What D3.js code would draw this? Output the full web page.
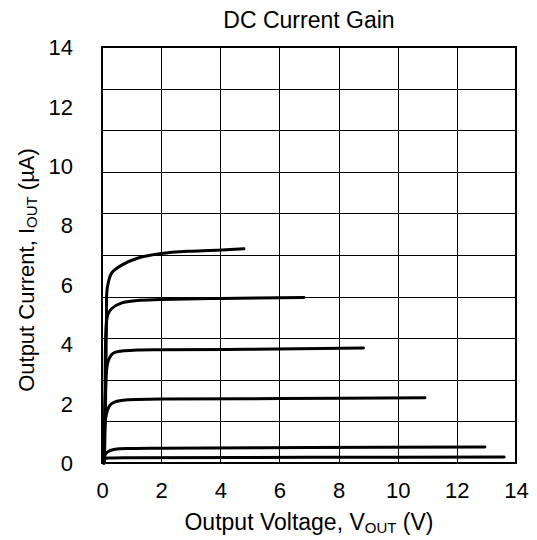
<!DOCTYPE html>
<html><head><meta charset="utf-8">
<script src="https://cdn.jsdelivr.net/npm/d3@7"></script>
<style>body{margin:0;background:#fff}svg{display:block}text{font-family:"Liberation Sans",Arial,sans-serif;fill:#000}</style>
</head><body>
<svg id="c" width="537" height="540"></svg>
<script>
const xTicks = [0, 2, 4, 6, 8, 10, 12, 14];
const yTicks = [0, 2, 4, 6, 8, 10, 12, 14];
const yGridCount = 10;
const title = "DC Current Gain";

// Output current curves (V, µA)
const curve1 = [[0.08,0],[0.12,2],[0.15,4.8],[0.18,5.9],[0.33,6.4],[0.67,6.66],[1.22,6.9],[2.0,7.05],[3.0,7.13],[4.06,7.17],[4.8,7.21]];
const curve2 = [[0.07,0],[0.1,2],[0.14,4.6],[0.2,5.0],[0.33,5.2],[0.67,5.39],[1.2,5.47],[2.0,5.5],[4.0,5.54],[6.83,5.57]];
const curve3 = [[0.07,0],[0.12,2.5],[0.2,3.4],[0.37,3.69],[0.67,3.77],[1.2,3.8],[2.0,3.81],[5.0,3.83],[8.84,3.87]];
const curve4 = [[0.06,0],[0.12,1.5],[0.27,1.95],[0.44,2.06],[0.88,2.13],[2.0,2.15],[6.0,2.17],[10.92,2.2]];
const curve5 = [[0.06,0],[0.12,0.3],[0.2,0.38],[0.44,0.46],[1.0,0.49],[2.0,0.5],[7.0,0.52],[12.95,0.54]];
const curve6 = [[0.05,0],[0.1,0.14],[0.3,0.17],[1.0,0.18],[7.0,0.19],[13.6,0.2]];
const curves = [curve1, curve2, curve3, curve4, curve5, curve6];

const svg = d3.select("#c");
const L = 102, R = 516, T = 47, B = 463;
const x = d3.scaleLinear().domain([0, 14]).range([L, R]);
const y = d3.scaleLinear().domain([0, 14]).range([B, T]);

// grid
const g = svg.append("g").attr("shape-rendering", "crispEdges");
g.selectAll(".vg").data(xTicks).join("line")
  .attr("x1", d => Math.round(x(d)) + 0.5).attr("x2", d => Math.round(x(d)) + 0.5)
  .attr("y1", T).attr("y2", B).attr("stroke", "#000").attr("stroke-width", 1);
const hg = d3.range(yGridCount + 1).map(i => 14 * i / yGridCount);
g.selectAll(".hg").data(hg).join("line")
  .attr("x1", L).attr("x2", R)
  .attr("y1", d => Math.round(y(d)) + 0.5).attr("y2", d => Math.round(y(d)) + 0.5)
  .attr("stroke", "#000").attr("stroke-width", 1);
svg.append("rect").attr("x", L).attr("y", T).attr("width", R - L).attr("height", B - T)
  .attr("fill", "none").attr("stroke", "#000").attr("stroke-width", 2);

// curves
const line = d3.line().x(d => x(d[0])).y(d => y(d[1])).curve(d3.curveCatmullRom.alpha(0.5));
svg.append("g").selectAll("path").data(curves).join("path")
  .attr("d", line).attr("fill", "none").attr("stroke", "#000")
  .attr("stroke-width", 3).attr("stroke-linecap", "round").attr("stroke-linejoin", "round");

// axes (labels only)
const FF = "Liberation Sans, Arial, sans-serif";
const xAxis = d3.axisBottom(x).tickValues(xTicks).tickSize(0).tickPadding(0).tickFormat(d3.format("d"));
const xa = svg.append("g").attr("transform", `translate(0,${B})`).call(xAxis);
xa.select(".domain").remove();
xa.selectAll("text").attr("font-size", 22).attr("dy", null).attr("y", 35).style("font-family", FF);
const yAxis = d3.axisLeft(y).tickValues(yTicks).tickSize(0).tickPadding(0).tickFormat(d3.format("d"));
const ya = svg.append("g").attr("transform", `translate(73,0)`).call(yAxis);
ya.select(".domain").remove();
ya.selectAll("text").attr("font-size", 22).attr("dy", "0.35em").attr("x", 0).style("font-family", FF);

// titles
svg.append("text").attr("x", (L + R) / 2).attr("y", 28).attr("text-anchor", "middle")
  .attr("font-size", 23).text(title);
const xl = svg.append("text").attr("x", (L + R) / 2).attr("y", 530).attr("text-anchor", "middle").attr("font-size", 23);
xl.append("tspan").text("Output Voltage, V");
xl.append("tspan").attr("font-size", 15).attr("dy", 3).text("OUT");
xl.append("tspan").attr("dy", -3).text(" (V)");
const yl = svg.append("text").attr("transform", "translate(34,270) rotate(-90)").attr("text-anchor", "middle").attr("font-size", 22);
yl.append("tspan").text("Output Current, I");
yl.append("tspan").attr("font-size", 15).attr("dy", 3).text("OUT");
yl.append("tspan").attr("dy", -3).text(" (µA)");
</script>
</body></html>
